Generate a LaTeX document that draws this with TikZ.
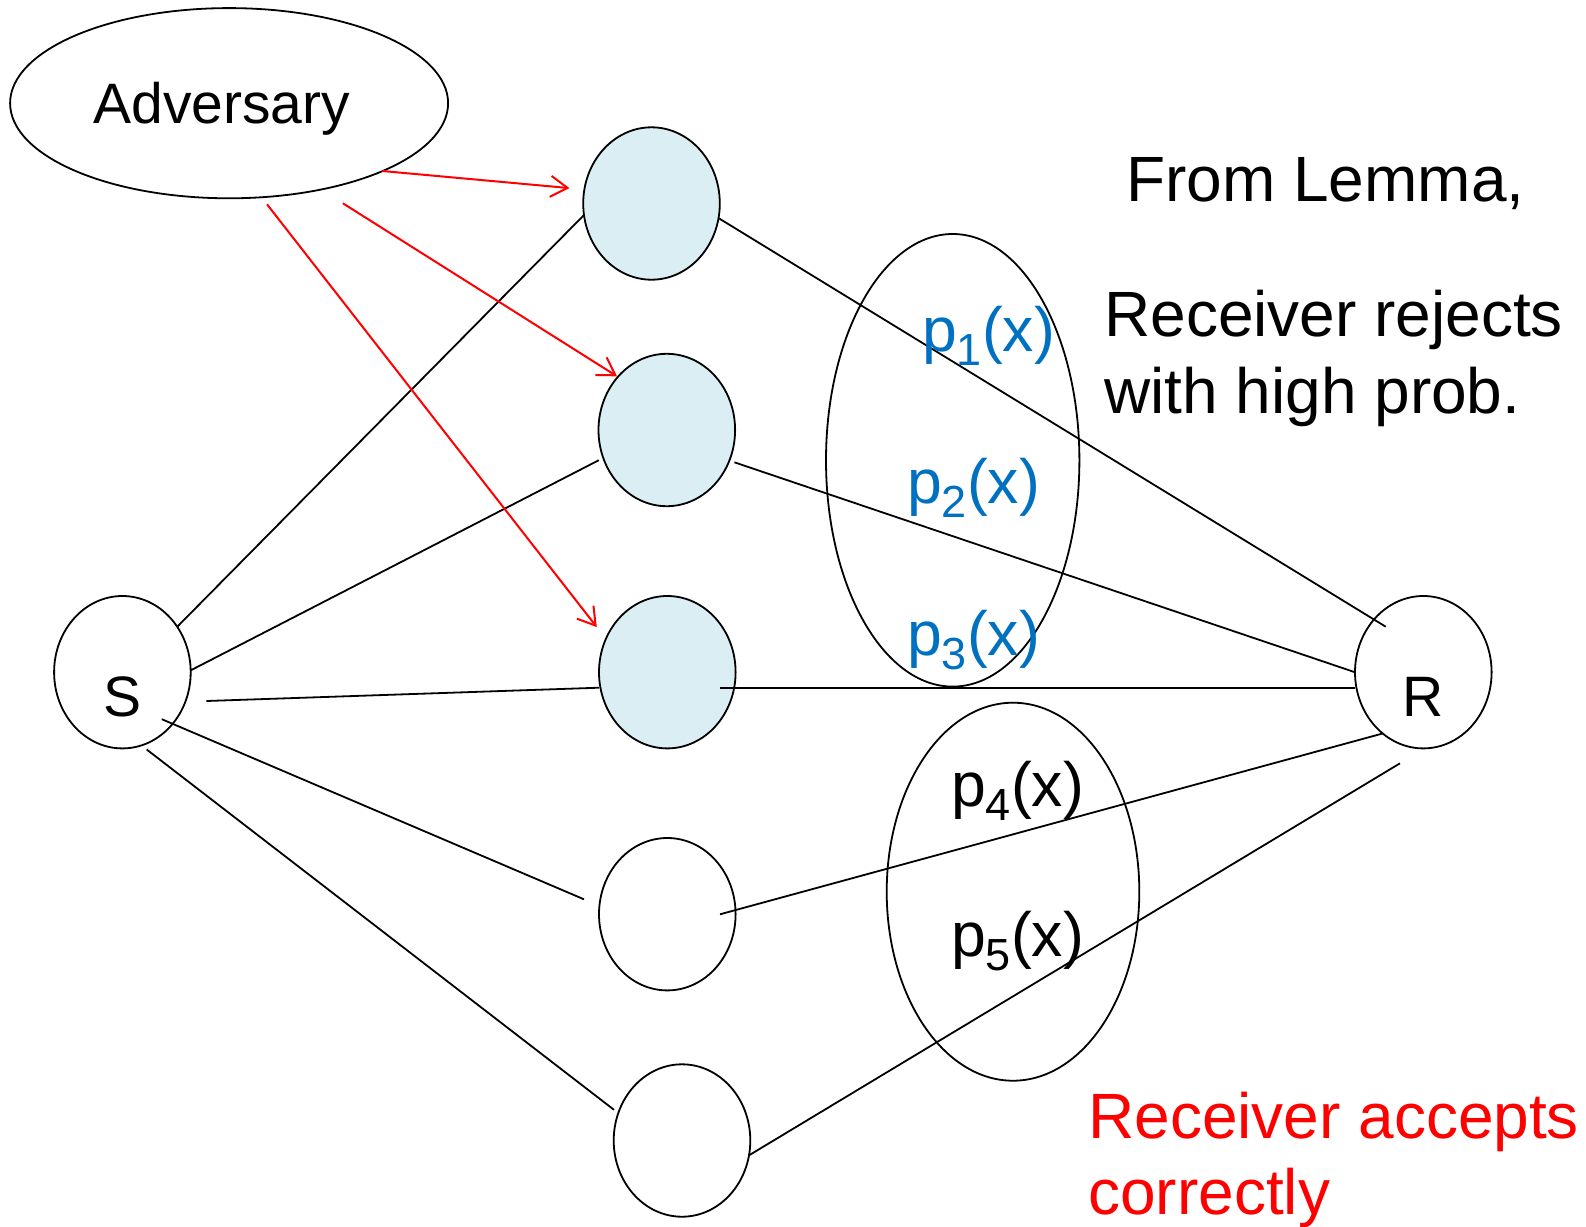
\documentclass[tikz,border=0pt]{standalone}
\usepackage{fontspec}
\setmainfont{Liberation Sans}
\usetikzlibrary{shapes.geometric,arrows.meta,calc}
\definecolor{relayfill}{HTML}{DAEEF3}
\definecolor{polyblue}{HTML}{0070C0}
\definecolor{advred}{HTML}{FF0000}
% lowered index for the share polynomials
\newcommand\polyidx[1]{\raisebox{-14pt}{\fontsize{45}{45}\selectfont #1}}

\begin{document}
\begin{tikzpicture}[x=1pt,y=-1pt,
  party/.style={ellipse,draw,line width=1.8pt,minimum width=136.6pt,minimum height=152.4pt,inner sep=0pt},
  relay/.style={party,fill=relayfill},
  group/.style={ellipse,draw,line width=1.8pt,inner sep=0pt},
  link/.style={line width=1.8pt},
  attack/.style={advred,line width=2pt,-{Straight Barb[length=17pt,width=21pt]}},
  txt/.style={inner sep=0pt,anchor=base west},
  big/.style={txt,font=\fontsize{64}{77}\selectfont},
  lbl/.style={inner sep=0pt,anchor=base,font=\fontsize{57}{68}\selectfont},
  poly/.style={txt,font=\fontsize{62.5}{74}\selectfont},
]
\useasboundingbox (0,0) rectangle (1586,1226);

% adversary and the polynomial groups
\node[group,minimum width=438pt,minimum height=190.2pt] (adv) at (229.1,103.2) {};
\node[group,minimum width=253.4pt,minimum height=452.6pt] (g1) at (952.7,460.3) {};
\node[group,minimum width=252.6pt,minimum height=378pt] (g2) at (1013,891.7) {};

% sender, receiver and the five wires
\node[party] (S) at (122.4,672.2) {};
\node[party] (R) at (1423.3,672.2) {};
\node[relay] (n1) at (651.5,203.5) {};
\node[relay] (n2) at (666.8,430) {};
\node[relay] (n3) at (667.3,672.2) {};
\node[party] (n4) at (667.3,914.2) {};
\node[party] (n5) at (682,1140.5) {};

% wires from S
\draw[link] ($(S)+(54.6,-45.2)$) -- ($(n1)+(-67.9,11.9)$);
\draw[link] ($(S)+(67.8,-1.6)$) -- ($(n2)+(-68,30.2)$);
\draw[link] ($(S)+(83.9,28.8)$) -- ($(n3)+(-68.3,15.5)$);
\draw[link] ($(S)+(39.4,47)$) -- ($(n4)+(-83.3,-14.9)$);
\draw[link] ($(S)+(24.3,77.3)$) -- ($(n5)+(-68,-30.7)$);

% wires to R
\draw[link] ($(n1)+(67.7,15)$) -- ($(R)+(-37.6,-45.5)$);
\draw[link] ($(n2)+(67.6,32.3)$) -- ($(R)+(-69,-0.2)$);
\draw[link] ($(n3)+(52.7,15.5)$) -- ($(R)+(-68.6,15.5)$);
\draw[link] ($(n4)+(52.7,0.1)$) -- ($(R)+(-40,61.1)$);
\draw[link] ($(n5)+(67.5,14.5)$) -- ($(R)+(-23.3,91.1)$);

% corrupted wires
\draw[attack] ($(adv)+(153.2,67.8)$) -- ($(n1)+(-82,-15.4)$);
\draw[attack] ($(adv)+(113.8,100.1)$) -- ($(n2)+(-49.8,-53.7)$);
\draw[attack] ($(adv)+(37.9,101.1)$) -- ($(n3)+(-70.5,-45.1)$);

% labels
\node[lbl] (advtxt) at (221.6,123.4) {Adversary};
\node[lbl] (Stxt) at (122.9,716) {S};
\node[lbl] (Rtxt) at (1423.3,716) {R};

\node[poly,text=polyblue] (p1) at (922,351.7) {p\polyidx{1}(x)};
\node[poly,text=polyblue] (p2) at (907,503.3) {p\polyidx{2}(x)};
\node[poly,text=polyblue] (p3) at (907,655) {p\polyidx{3}(x)};
\node[poly] (p4) at (951,806) {p\polyidx{4}(x)};
\node[poly] (p5) at (951,956.7) {p\polyidx{5}(x)};

\node[big] (lemma) at (1126,201) {From Lemma,};
\node[big] (rej1) at (1104,336) {Receiver rejects};
\node[big] (rej2) at (1104,413.3) {with high prob.};
\node[big,text=advred] (acc1) at (1088,1138.3) {Receiver accepts};
\node[big,text=advred] (acc2) at (1088,1214.3) {correctly};
\end{tikzpicture}
\end{document}
